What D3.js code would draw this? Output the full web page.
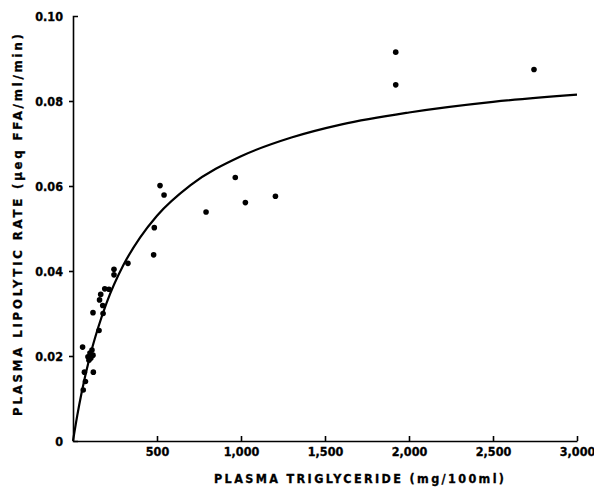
<!doctype html>
<html lang="en">
<head>
<meta charset="UTF-8" />
<title>Plasma lipolytic rate vs triglyceride</title>
<script src="https://d3js.org/d3.v7.min.js"></script>
<style>
  html,body{margin:0;padding:0;background:#fff;}
  svg text{font-family:"DejaVu Sans Condensed","DejaVu Sans","Liberation Sans",sans-serif;font-weight:bold;fill:#000;stroke:#000;stroke-width:0.3px;}
  .axis path,.axis line{stroke:#000;stroke-width:1.6px;}
</style>
</head>
<body>
<div id="chart"></div>
<script>
  /* ── data ── */
  const triglyceride = [61, 74, 68, 121, 57, 89, 101, 113, 119, 95, 106,
                        155, 119, 179, 165, 158, 177, 189, 214, 244, 244, 327,
                        480, 484, 518, 542, 792, 966, 1026, 1205, 1921, 1921, 2744];
  const lipolyticRate = [0.0120, 0.0140, 0.0162, 0.0162, 0.0221, 0.0198, 0.0207, 0.0214, 0.0202, 0.0190, 0.0195,
                         0.0260, 0.0302, 0.0300, 0.0345, 0.0332, 0.0319, 0.0358, 0.0357, 0.0404, 0.0391, 0.0418,
                         0.0438, 0.0502, 0.0601, 0.0579, 0.0539, 0.0620, 0.0561, 0.0576, 0.0915, 0.0838, 0.0874];

  // fitted curve
  const curveX = [0, 25, 50, 100, 150, 200, 300, 400, 500, 700, 1000, 1300, 1600, 2000, 2500, 3000];
  const curveY = [0, 0.0059, 0.0111, 0.0198, 0.0267, 0.0325, 0.0414, 0.0479, 0.0530, 0.0602,
                  0.0670, 0.0714, 0.0745, 0.0773, 0.0798, 0.0815];

  const xTicks = [500, 1000, 1500, 2000, 2500, 3000];
  const yTicks = [0, 0.02, 0.04, 0.06, 0.08, 0.10];

  const xTitle = 'PLASMA TRIGLYCERIDE (mg/100ml)';
  const yTitle = 'PLASMA LIPOLYTIC RATE (\u03BCeq FFA/ml/min)';

  /* ── geometry ── */
  const W = 594, H = 490;
  const M = {left:73, right:17, top:16, bottom:49};

  const svg = d3.select('#chart').append('svg').attr('width', W).attr('height', H);

  const x = d3.scaleLinear().domain([0, 3000]).range([M.left, W - M.right]);
  const y = d3.scaleLinear().domain([0, 0.10]).range([H - M.bottom, M.top]);

  /* axes */
  const gx = svg.append('g').attr('class','axis')
    .attr('transform', `translate(0,${y(0)})`)
    .call(d3.axisBottom(x).tickValues(xTicks).tickFormat(d3.format(','))
            .tickSizeInner(-5).tickSizeOuter(0).tickPadding(6));
  gx.selectAll('text').style('font-size','12.5px');

  const gy = svg.append('g').attr('class','axis')
    .attr('transform', `translate(${x(0)},0)`)
    .call(d3.axisLeft(y).tickValues(yTicks)
            .tickFormat(d => d === 0 ? '0' : d3.format('.2f')(d))
            .tickSizeInner(4).tickSizeOuter(-5).tickPadding(6));
  gy.selectAll('text').style('font-size','12.5px');
  gy.selectAll('.tick').filter(d => d === 0 || d === 0.10).select('line').remove();

  /* axis titles */
  svg.append('text')
     .attr('x', 359).attr('y', 483)
     .attr('text-anchor','middle')
     .attr('textLength', 290).attr('lengthAdjust','spacing')
     .style('font-size','12.5px')
     .text(xTitle);

  svg.append('text')
     .attr('transform', 'translate(22,225) rotate(-90)')
     .attr('text-anchor','middle')
     .attr('textLength', 382).attr('lengthAdjust','spacing')
     .style('font-size','13px')
     .text(yTitle);

  /* fitted curve */
  const line = d3.line()
    .x(i => x(curveX[i])).y(i => y(curveY[i]))
    .curve(d3.curveMonotoneX);
  svg.append('path')
     .attr('d', line(d3.range(curveX.length)))
     .attr('fill','none').attr('stroke','#000').attr('stroke-width',2.2);

  /* points */
  svg.append('g').selectAll('circle')
     .data(d3.range(triglyceride.length))
     .join('circle')
     .attr('cx', i => x(triglyceride[i]))
     .attr('cy', i => y(lipolyticRate[i]))
     .attr('r', 2.8)
     .attr('fill','#000');
</script>
</body>
</html>
